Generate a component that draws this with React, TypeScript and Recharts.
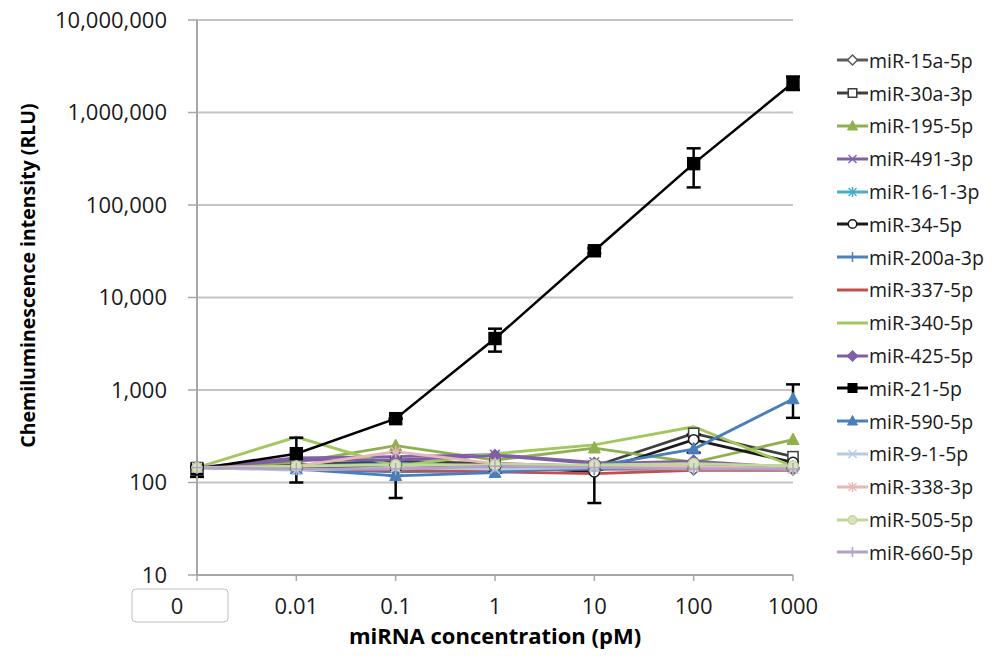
import React from 'react';
import { LineChart, Line, XAxis, YAxis, CartesianGrid, Legend, ErrorBar } from 'recharts';

const concLabels = ['0', '0.01', '0.1', '1', '10', '100', '1000'];
const yTicks = [10, 100, 1000, 10000, 100000, 1000000, 10000000];

const mir15a = [145, 140, 155, 150, 140, 140, 140];
const mir30a = [145, 155, 170, 160, 150, 340, 190];
const mir195 = [145, 165, 250, 175, 235, 165, 290];
const mir491 = [145, 185, 190, 200, 165, 155, 145];
const mir16 = [145, 150, 160, 150, 150, 150, 150];
const mir34 = [145, 150, 140, 150, 130, 290, 165];
const mir200a = [145, 140, 130, 135, 140, 150, 150];
const mir337 = [145, 140, 135, 130, 125, 135, 135];
const mir340 = [145, 310, 150, 205, 255, 400, 150];
const mir425 = [145, 175, 175, 195, 160, 170, 145];
const mir21 = [140, 205, 490, 3600, 32000, 280000, 2100000];
const mir590 = [145, 140, 118, 128, 150, 230, 800];
const mir9 = [145, 135, 145, 140, 145, 145, 140];
const mir338 = [145, 150, 215, 160, 150, 150, 140];
const mir505 = [145, 150, 155, 155, 155, 160, 150];
const mir660 = [145, 140, 140, 150, 145, 140, 140];

const err21 = [[25, 10], [105, 100], [0, 0], [1000, 1000], [2000, 2000], [125000, 130000], [350000, 350000]];
const err590 = [[0, 0], [0, 0], [50, 0], [0, 0], [90, 0], [20, 100], [300, 350]];

type Shape = 'diamondOpen' | 'squareOpen' | 'triangle' | 'x' | 'star' | 'circleOpen' | 'plus' | 'none' | 'diamond' | 'square' | 'circle';

interface S { key: string; name: string; values: number[]; color: string; shape: Shape; fill: string; err?: number[][]; }

const series: S[] = [
  { key: 'a', name: 'miR-15a-5p', values: mir15a, color: '#5A5A5A', shape: 'diamondOpen', fill: '#ffffff' },
  { key: 'b', name: 'miR-30a-3p', values: mir30a, color: '#3F3F3F', shape: 'squareOpen', fill: '#ffffff' },
  { key: 'c', name: 'miR-195-5p', values: mir195, color: '#8FB04F', shape: 'triangle', fill: '#8FB04F' },
  { key: 'd', name: 'miR-491-3p', values: mir491, color: '#7F62A6', shape: 'x', fill: '#7F62A6' },
  { key: 'e', name: 'miR-16-1-3p', values: mir16, color: '#4BACC6', shape: 'star', fill: '#4BACC6' },
  { key: 'f', name: 'miR-34-5p', values: mir34, color: '#1A1A1A', shape: 'circleOpen', fill: '#ffffff' },
  { key: 'g', name: 'miR-200a-3p', values: mir200a, color: '#4F81BD', shape: 'plus', fill: '#4F81BD' },
  { key: 'h', name: 'miR-337-5p', values: mir337, color: '#C0504D', shape: 'none', fill: '#C0504D' },
  { key: 'i', name: 'miR-340-5p', values: mir340, color: '#A3C75F', shape: 'none', fill: '#A3C75F' },
  { key: 'j', name: 'miR-425-5p', values: mir425, color: '#7E5FA6', shape: 'diamond', fill: '#7E5FA6' },
  { key: 'k', name: 'miR-21-5p', values: mir21, color: '#000000', shape: 'square', fill: '#000000', err: err21 },
  { key: 'l', name: 'miR-590-5p', values: mir590, color: '#4A7EBB', shape: 'triangle', fill: '#4A7EBB', err: err590 },
  { key: 'm', name: 'miR-9-1-5p', values: mir9, color: '#B7C9E2', shape: 'x', fill: '#B7C9E2' },
  { key: 'n', name: 'miR-338-3p', values: mir338, color: '#E5B8B7', shape: 'star', fill: '#E5B8B7' },
  { key: 'o', name: 'miR-505-5p', values: mir505, color: '#C3D69B', shape: 'circle', fill: '#D7E4BD' },
  { key: 'p', name: 'miR-660-5p', values: mir660, color: '#B3A2C7', shape: 'plus', fill: '#B3A2C7' },
];

const data = concLabels.map((c, i) => {
  const row: Record<string, any> = { conc: c };
  series.forEach((s) => {
    row[s.key] = s.values[i];
    if (s.err) row[s.key + '_err'] = s.err[i];
  });
  return row;
});

const FONT = '"Open Sans", Lato, sans-serif';

function Marker({ shape, cx, cy, color, fill, r }: { shape: Shape; cx: number; cy: number; color: string; fill: string; r: number }) {
  const sw = 1.5;
  switch (shape) {
    case 'diamondOpen':
    case 'diamond':
      return <polygon points={`${cx},${cy - r} ${cx + r},${cy} ${cx},${cy + r} ${cx - r},${cy}`} fill={fill} stroke={color} strokeWidth={sw} />;
    case 'squareOpen':
    case 'square':
      return <rect x={cx - r * 0.85} y={cy - r * 0.85} width={r * 1.7} height={r * 1.7} fill={fill} stroke={color} strokeWidth={sw} />;
    case 'triangle':
      return <polygon points={`${cx},${cy - r * 1.1} ${cx + r},${cy + r * 0.8} ${cx - r},${cy + r * 0.8}`} fill={fill} stroke={color} strokeWidth={1} />;
    case 'x':
      return (
        <g stroke={color} strokeWidth={sw}>
          <line x1={cx - r * 0.8} y1={cy - r * 0.8} x2={cx + r * 0.8} y2={cy + r * 0.8} />
          <line x1={cx - r * 0.8} y1={cy + r * 0.8} x2={cx + r * 0.8} y2={cy - r * 0.8} />
        </g>
      );
    case 'star':
      return (
        <g stroke={color} strokeWidth={sw}>
          <line x1={cx - r * 0.8} y1={cy - r * 0.8} x2={cx + r * 0.8} y2={cy + r * 0.8} />
          <line x1={cx - r * 0.8} y1={cy + r * 0.8} x2={cx + r * 0.8} y2={cy - r * 0.8} />
          <line x1={cx} y1={cy - r} x2={cx} y2={cy + r} />
        </g>
      );
    case 'circleOpen':
    case 'circle':
      return <circle cx={cx} cy={cy} r={r * 0.85} fill={fill} stroke={color} strokeWidth={sw} />;
    case 'plus':
      return (
        <g stroke={color} strokeWidth={sw}>
          <line x1={cx} y1={cy - r} x2={cx} y2={cy + r} />
          <line x1={cx - r} y1={cy} x2={cx + r} y2={cy} />
        </g>
      );
    default:
      return null;
  }
}

function XTick(props: any) {
  const { x, y, payload, index } = props;
  const first = index === 0;
  return (
    <g>
      {first && <rect x={x - 65} y={y - 9} width={96} height={33} rx={4} fill="#ffffff" stroke="#BFBFBF" strokeWidth={1} />}
      <text x={first ? x - 20 : x} y={y} dy="0.71em" textAnchor="middle" fontFamily={FONT} fontSize={22} fill="#1a1a1a">
        {payload.value}
      </text>
    </g>
  );
}

function YLabel(props: any) {
  const vb = props.viewBox || { x: 0, y: 20, width: 197, height: 555 };
  const cx = vb.x + 30;
  const cy = vb.y + vb.height / 2 - 22;
  return (
    <text x={cx} y={cy} transform={`rotate(-90, ${cx}, ${cy})`} textAnchor="middle" dominantBaseline="middle" fontFamily={FONT} fontWeight={700} fontSize={19.5} fill="#000">
      Chemiluminescence intensity (RLU)
    </text>
  );
}

function XLabel(props: any) {
  const vb = props.viewBox || { x: 197, y: 575, width: 596, height: 69 };
  return (
    <text x={vb.x + vb.width / 2} y={vb.y + vb.height} textAnchor="middle" fontFamily={FONT} fontWeight={700} fontSize={22} fill="#000">
      miRNA concentration (pM)
    </text>
  );
}

function LegendContent() {
  return (
    <div style={{ fontFamily: FONT, fontSize: 19.5, color: '#1a1a1a' }}>
      {series.map((s) => (
        <div key={s.name} style={{ display: 'flex', alignItems: 'center', height: 32.8, whiteSpace: 'nowrap' }}>
          <svg width={33} height={20} style={{ marginRight: 0 }}>
            <line x1={1} x2={32} y1={10} y2={10} stroke={s.color} strokeWidth={3} />
            <Marker shape={s.shape} cx={16.5} cy={10} color={s.color} fill={s.fill} r={5} />
          </svg>
          <span>{s.name}</span>
        </div>
      ))}
    </div>
  );
}

export default function App() {
  return (
    <div style={{ position: 'absolute', left: 0, top: 0, width: 995, height: 666, background: '#fff' }}>
      <LineChart width={995} height={666} data={data} margin={{ top: 20, right: 202, bottom: 22, left: 0 }}>
        <CartesianGrid vertical={false} stroke="#C4C4C4" strokeWidth={2} />
        <XAxis
          dataKey="conc"
          interval={0}
          height={69}
          tickSize={6}
          tickMargin={17}
          axisLine={{ stroke: '#A6A6A6', strokeWidth: 2 }}
          tickLine={{ stroke: '#A6A6A6', strokeWidth: 1.5 }}
          tick={<XTick />}
          label={<XLabel />}
        />
        <YAxis
          scale="log"
          domain={[10, 10000000]}
          ticks={yTicks}
          allowDataOverflow
          width={197}
          tickSize={9}
          tickMargin={21}
          axisLine={{ stroke: '#A6A6A6', strokeWidth: 2 }}
          tickLine={{ stroke: '#A6A6A6', strokeWidth: 1.5 }}
          tick={{ fontFamily: FONT, fontSize: 22, fill: '#1a1a1a' }}
          tickFormatter={(v: number) => v.toLocaleString('en-US')}
          label={<YLabel />}
        />
        <Legend
          layout="vertical"
          align="center"
          verticalAlign="middle"
          content={<LegendContent />}
          wrapperStyle={{ position: 'absolute', left: 836, top: 44, width: 160, height: 530 }}
        />
        {series.map((s) => (
          <Line
            key={s.key}
            dataKey={s.key}
            name={s.name}
            stroke={s.color}
            strokeWidth={s.key === 'k' ? 2.5 : 2.8}
            isAnimationActive={false}
            activeDot={false}
            dot={
              s.shape === 'none'
                ? false
                : (p: any) => (
                    <Marker key={`${s.key}-${p.index}`} shape={s.shape} cx={p.cx} cy={p.cy} color={s.color} fill={s.fill} r={s.key === 'k' ? 7 : 6} />
                  )
            }
          >
            {s.err && <ErrorBar dataKey={s.key + '_err'} direction="y" width={7} strokeWidth={2.5} stroke="#000" />}
          </Line>
        ))}
      </LineChart>
    </div>
  );
}
